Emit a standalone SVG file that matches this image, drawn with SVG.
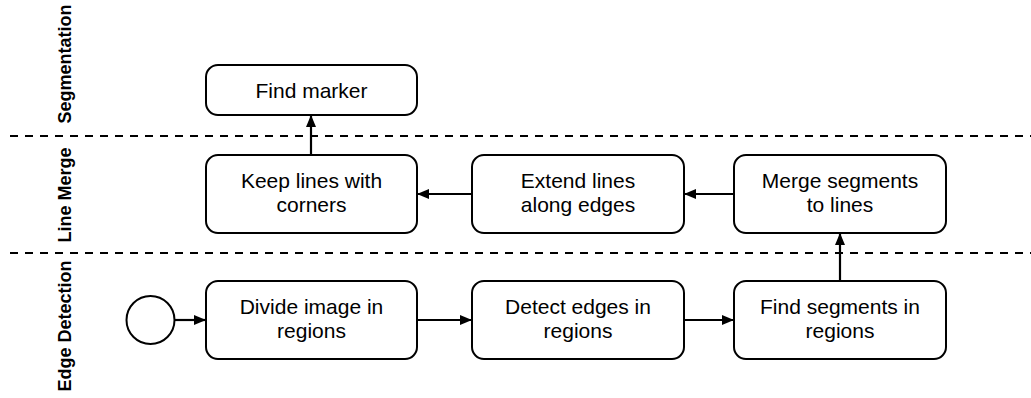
<svg xmlns="http://www.w3.org/2000/svg" width="1031" height="398" viewBox="0 0 1031 398">
  <defs>
    <style>
      .box { fill: #ffffff; stroke: #000000; stroke-width: 2; }
      .lbl { font-family: "Liberation Sans", Arial, sans-serif; font-size: 21px; fill: #000000; text-anchor: middle; }
      .lane { font-family: "Liberation Sans", Arial, sans-serif; font-size: 18px; font-weight: bold; fill: #000000; text-anchor: middle; }
      .sep { stroke: #000000; stroke-width: 2; stroke-dasharray: 8 7; fill: none; }
      .edge { stroke: #000000; stroke-width: 2.2; fill: none; marker-end: url(#arrow); }
    </style>
    <marker id="arrow" markerUnits="userSpaceOnUse" markerWidth="12" markerHeight="10" refX="12" refY="5" orient="auto">
      <path d="M0,0 L12,5 L0,10 z" fill="#000000"/>
    </marker>
  </defs>
  <rect width="1031" height="398" fill="#ffffff"/>

  <g id="lanes">
    <line class="sep" x1="10" y1="136" x2="1031" y2="136"/>
    <line class="sep" x1="10" y1="253" x2="1031" y2="253"/>
    <text class="lane" transform="translate(71,64) rotate(-90)">Segmentation</text>
    <text class="lane" transform="translate(71,195) rotate(-90)">Line Merge</text>
    <text class="lane" transform="translate(71,326) rotate(-90)">Edge Detection</text>
  </g>

  <g id="connectors">
    <line class="edge" x1="175" y1="320" x2="206" y2="320"/>
    <line class="edge" x1="417" y1="320" x2="472" y2="320"/>
    <line class="edge" x1="684" y1="320" x2="734" y2="320"/>
    <line class="edge" x1="840" y1="281" x2="840" y2="233"/>
    <line class="edge" x1="734" y1="194" x2="684" y2="194"/>
    <line class="edge" x1="472" y1="194" x2="417" y2="194"/>
    <line class="edge" x1="311" y1="155" x2="311" y2="115"/>
  </g>

  <g id="start">
    <circle cx="150.5" cy="320" r="24" fill="#ffffff" stroke="#000000" stroke-width="2"/>
  </g>

  <g id="find-marker">
    <rect class="box" x="206" y="65" width="211" height="50" rx="12" ry="12"/>
    <text class="lbl" x="311.5" y="97.5">Find marker</text>
  </g>

  <g id="keep-lines">
    <rect class="box" x="206" y="155" width="211" height="78" rx="12" ry="12"/>
    <text class="lbl" x="311.5" y="188">Keep lines with</text>
    <text class="lbl" x="311.5" y="212">corners</text>
  </g>

  <g id="extend-lines">
    <rect class="box" x="472" y="155" width="212" height="78" rx="12" ry="12"/>
    <text class="lbl" x="578" y="188">Extend lines</text>
    <text class="lbl" x="578" y="212">along edges</text>
  </g>

  <g id="merge-segments">
    <rect class="box" x="734" y="155" width="212" height="78" rx="12" ry="12"/>
    <text class="lbl" x="840" y="188">Merge segments</text>
    <text class="lbl" x="840" y="212">to lines</text>
  </g>

  <g id="divide-image">
    <rect class="box" x="206" y="281" width="211" height="78" rx="12" ry="12"/>
    <text class="lbl" x="311.5" y="314">Divide image in</text>
    <text class="lbl" x="311.5" y="338">regions</text>
  </g>

  <g id="detect-edges">
    <rect class="box" x="472" y="281" width="212" height="78" rx="12" ry="12"/>
    <text class="lbl" x="578" y="314">Detect edges in</text>
    <text class="lbl" x="578" y="338">regions</text>
  </g>

  <g id="find-segments">
    <rect class="box" x="734" y="281" width="212" height="78" rx="12" ry="12"/>
    <text class="lbl" x="840" y="314">Find segments in</text>
    <text class="lbl" x="840" y="338">regions</text>
  </g>
</svg>
